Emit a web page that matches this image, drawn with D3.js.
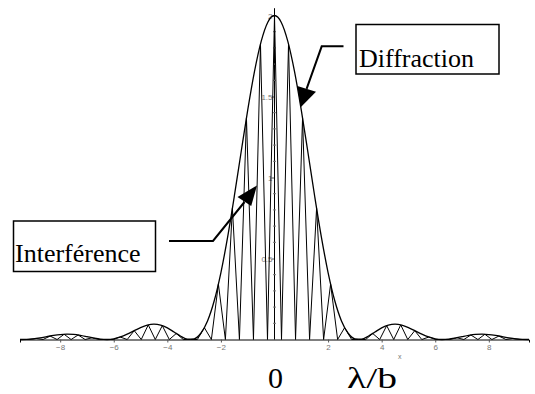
<!DOCTYPE html>
<html><head><meta charset="utf-8">
<script src="https://cdn.jsdelivr.net/npm/d3@7"></script>
<style>html,body{margin:0;padding:0;background:#fff;}svg{display:block;}</style>
</head><body>
<svg id="chart" width="535" height="394"></svg>
<script>
// Diffraction envelope (x in units, value)
const envX = [-9.5,-9.25,-9,-8.75,-8.5,-8.25,-8,-7.75,-7.5,-7.25,-7,-6.75,-6.5,-6.25,-6,-5.75,-5.5,-5.25,-5,-4.75,-4.5,-4.25,-4,-3.75,-3.5,-3.25,-3,-2.75,-2.5,-2.25,-2,-1.75,-1.5,-1.25,-1,-0.75,-0.5,-0.25,0,
  0.25,0.5,0.75,1,1.25,1.5,1.75,2,2.25,2.5,2.75,3,3.25,3.5,3.75,4,4.25,4.5,4.75,5,5.25,5.5,5.75,6,6.25,6.5,6.75,7,7.25,7.5,7.75,8,8.25,8.5,8.75,9,9.25,9.5];
const envY = [0.0001,0.0008,0.0042,0.0102,0.0176,0.0250,0.0306,0.0329,0.0313,0.0258,0.0176,0.0089,0.0022,0.0001,0.0043,0.0156,0.0329,0.0535,0.0736,0.0885,0.0944,0.0887,0.0716,0.0465,0.0201,0.0022,0.0044,0.0385,0.1146,0.2392,0.4134,0.6323,0.8844,1.1527,1.4161,1.6520,1.8388,1.9587,2,
  1.9587,1.8388,1.6520,1.4161,1.1527,0.8844,0.6323,0.4134,0.2392,0.1146,0.0385,0.0044,0.0022,0.0201,0.0465,0.0716,0.0887,0.0944,0.0885,0.0736,0.0535,0.0329,0.0156,0.0043,0.0001,0.0022,0.0089,0.0176,0.0258,0.0313,0.0329,0.0306,0.0250,0.0176,0.0102,0.0042,0.0008,0.0001];

// Interference fringes: peak positions and heights (zeros lie halfway between peaks)
const fringeX = [-9.4248,-8.9012,-8.3776,-7.854,-7.3304,-6.8068,-6.2832,-5.7596,-5.236,-4.7124,-4.1888,-3.6652,-3.1416,-2.618,-2.0944,-1.5708,-1.0472,-0.5236,0,
  0.5236,1.0472,1.5708,2.0944,2.618,3.1416,3.6652,4.1888,4.7124,5.236,5.7596,6.2832,6.8068,7.3304,7.854,8.3776,8.9012,9.4248];
const fringeY = [0,0.0063,0.0214,0.0324,0.0279,0.0108,0,0.0151,0.0547,0.0901,0.0855,0.0372,0,0.0730,0.3420,0.8106,1.3678,1.8238,2,
  1.8238,1.3678,0.8106,0.3420,0.0730,0,0.0372,0.0855,0.0901,0.0547,0.0151,0,0.0108,0.0279,0.0324,0.0214,0.0063,0];

const xTicks = [-8,-6,-4,-2,2,4,6,8];
const yTicks = [0.5,1,1.5,2];
const yMinor = [0.1,0.2,0.3,0.4,0.6,0.7,0.8,0.9,1.1,1.2,1.3,1.4,1.6,1.7,1.8,1.9,2.0];

const svg = d3.select("#chart");
const x = d3.scaleLinear().domain([-9.5, 9.5]).range([20, 529]);
const y = d3.scaleLinear().domain([0, 2]).range([339.5, 15.5]);

// build interference polyline: peak, zero, peak ...
const interf = [];
for (let i = 0; i < fringeX.length; i++) {
  interf.push([fringeX[i], fringeY[i]]);
  if (i < fringeX.length - 1) interf.push([(fringeX[i] + fringeX[i+1]) / 2, 0]);
}

// axes
const xAxis = d3.axisBottom(x).tickValues(xTicks).tickSize(3).tickFormat(d3.format("d"));
const gx = svg.append("g").attr("transform", `translate(0,${y(0)})`).call(xAxis);
gx.select(".domain").attr("stroke", "#000").attr("stroke-width", 1);
gx.selectAll(".tick line").attr("stroke", "#555");
gx.selectAll(".tick text").attr("fill", "#777").attr("font-family", "Liberation Sans, Arial, sans-serif").attr("font-size", 8).attr("dy", "0.5em");

const yAxis = d3.axisLeft(y).tickValues(yTicks).tickSize(3).tickFormat(d => d);
const gy = svg.append("g").attr("transform", `translate(${x(0)},0)`).call(yAxis);
gy.select(".domain").remove();
gy.selectAll(".tick line").attr("stroke", "#555");
gy.selectAll(".tick text").attr("fill", "#777").attr("font-family", "Liberation Sans, Arial, sans-serif").attr("font-size", 8).attr("x", -2);
svg.append("line").attr("x1", x(0)).attr("x2", x(0)).attr("y1", y(0)).attr("y2", y(2.045)).attr("stroke", "#000").attr("stroke-width", 1);
svg.append("g").selectAll("line").data(yMinor).join("line")
  .attr("x1", x(0) - 1.5).attr("x2", x(0) + 1.5).attr("y1", d => y(d)).attr("y2", d => y(d))
  .attr("stroke", "#777").attr("stroke-width", 1);

svg.append("text").attr("x", 398).attr("y", 359).attr("fill", "#777")
  .attr("font-family", "Liberation Sans, Arial, sans-serif").attr("font-size", 7).text("x");

// curves
svg.append("path").datum(interf)
  .attr("d", d3.line().x(d => x(d[0])).y(d => y(d[1])))
  .attr("fill", "none").attr("stroke", "#000").attr("stroke-width", 1);
svg.append("path").datum(envX.map((v, i) => [v, envY[i]]))
  .attr("d", d3.line().x(d => x(d[0])).y(d => y(d[1])).curve(d3.curveMonotoneX))
  .attr("fill", "none").attr("stroke", "#000").attr("stroke-width", 1.3);

// annotations
const serif = "Liberation Serif, Times New Roman, serif";
svg.append("rect").attr("x", 356).attr("y", 24.5).attr("width", 143).attr("height", 49.5)
  .attr("fill", "#fff").attr("stroke", "#000").attr("stroke-width", 1.5);
svg.append("text").attr("x", 359).attr("y", 66.5).attr("font-family", serif).attr("font-size", 26).text("Diffraction");
svg.append("polyline").attr("points", "343.5,46.3 321.7,46.3 306.6,88.8")
  .attr("fill", "none").attr("stroke", "#000").attr("stroke-width", 2);
svg.append("polygon").attr("points", "297.3,86 316,91.7 300.7,107.3").attr("fill", "#000");

svg.append("rect").attr("x", 13.5).attr("y", 221).attr("width", 142).attr("height", 50.5)
  .attr("fill", "#fff").attr("stroke", "#000").attr("stroke-width", 1.5);
svg.append("text").attr("x", 15).attr("y", 261.5).attr("font-family", serif).attr("font-size", 26).text("Interférence");
svg.append("polyline").attr("points", "169,241 213,241 244.5,202")
  .attr("fill", "none").attr("stroke", "#000").attr("stroke-width", 2);
svg.append("polygon").attr("points", "237.5,197 257,185.5 251.2,206").attr("fill", "#000");

// bottom labels
svg.append("text").attr("x", 268).attr("y", 388).attr("font-family", serif).attr("font-size", 30).text("0");
svg.append("text").attr("x", 347).attr("y", 388).attr("font-family", serif).attr("font-size", 30)
  .attr("textLength", 50).attr("lengthAdjust", "spacingAndGlyphs").text("λ/b");
</script>
</body></html>
